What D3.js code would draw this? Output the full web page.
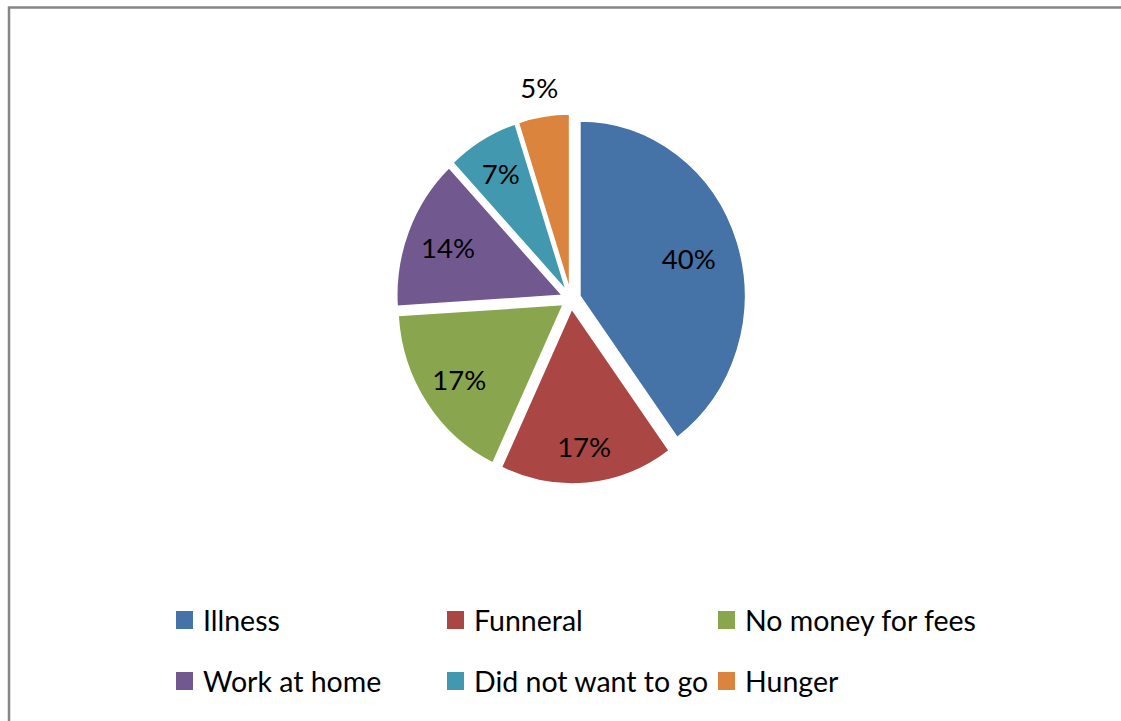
<!DOCTYPE html>
<html><head><meta charset="utf-8">
<script src="https://cdn.jsdelivr.net/npm/d3@7"></script>
<style>html,body{margin:0;padding:0;background:#fff;}svg{display:block;}</style>
</head><body>
<svg id="c" width="1121" height="721"></svg>
<script>
const categories = ["Illness", "Funneral", "No money for fees", "Work at home", "Did not want to go", "Hunger"];
const values = [40, 17, 17, 14, 7, 5];
const labels = ["40%", "17%", "17%", "14%", "7%", "5%"];
const colors = ["#4572A7", "#AA4643", "#89A54E", "#71588F", "#4198AF", "#DB843D"];

const svg = d3.select("#c");
const W = 1121, H = 721;
svg.append("rect").attr("width", W).attr("height", H).attr("fill", "#fff");
// chart border (only top and left visible)
svg.append("path").attr("d", "M9,721 L9,7.5 L1121,7.5").attr("fill", "none").attr("stroke", "#868686").attr("stroke-width", 2.5);

const cx = 571, cy = 299, r = 175, sx = 0.945, explode = 10;
const data = categories.map((c, i) => ({ cat: c, value: values[i], label: labels[i], color: colors[i] }));
const pie = d3.pie().value(d => d.value).sort(null);
const arcs = pie(data);
const arc = d3.arc().innerRadius(0).outerRadius(r);

const g = svg.append("g").attr("transform", `translate(${cx},${cy}) scale(${sx},1)`);
g.selectAll("path").data(arcs).join("path")
  .attr("d", arc)
  .attr("fill", d => d.data.color)
  .attr("stroke", "#fff").attr("stroke-width", 1.5)
  .attr("transform", d => {
    const a = (d.startAngle + d.endAngle) / 2;
    return `translate(${explode * Math.sin(a)},${-explode * Math.cos(a)})`;
  });

const labelR = [131, 148, 143, 140, 146, 214];
svg.append("g").selectAll("text").data(arcs).join("text")
  .attr("x", (d, i) => { const a = (d.startAngle + d.endAngle) / 2; return cx + sx * labelR[i] * Math.sin(a); })
  .attr("y", (d, i) => { const a = (d.startAngle + d.endAngle) / 2; return cy - labelR[i] * Math.cos(a); })
  .attr("text-anchor", "middle").attr("dominant-baseline", "central")
  .attr("font-family", "Lato, 'Open Sans', sans-serif").attr("font-size", 27.5)
  .attr("fill", "#000")
  .text(d => d.data.label);

// legend
const colX = [176, 447, 718], rowY = [620, 681];
const lg = svg.append("g");
data.forEach((d, i) => {
  const x = colX[i % 3], y = rowY[Math.floor(i / 3)];
  lg.append("rect").attr("x", x).attr("y", y - 9).attr("width", 17).attr("height", 18).attr("fill", d.color);
  lg.append("text").attr("x", x + 27).attr("y", y).attr("dominant-baseline", "central")
    .attr("font-family", "Lato, 'Open Sans', sans-serif").attr("font-size", 28.5).attr("fill", "#000")
    .text(d.cat);
});
</script>
</body></html>
